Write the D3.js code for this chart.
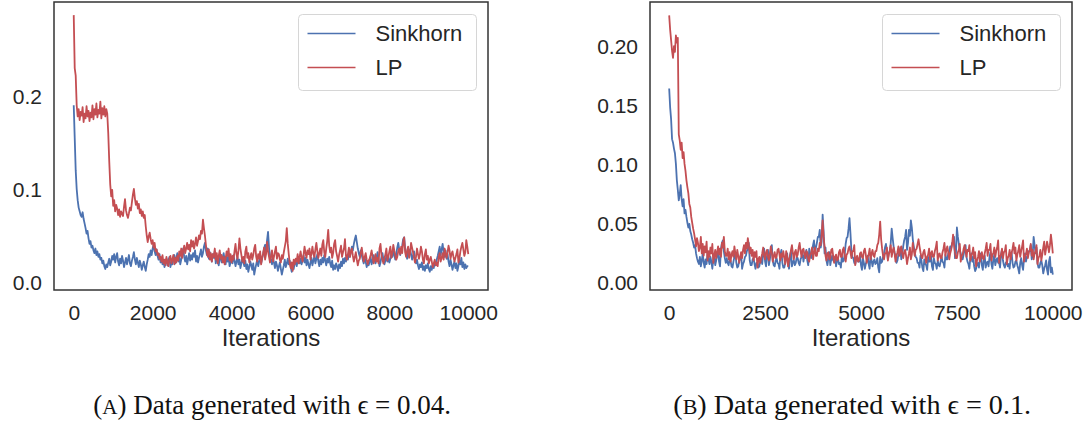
<!DOCTYPE html>
<html>
<head>
<meta charset="utf-8">
<script src="https://cdn.jsdelivr.net/npm/d3@7"></script>
<style>
  html, body { margin: 0; padding: 0; background: #fff; }
  svg { display: block; }
</style>
</head>
<body>
<svg id="chart" width="1091" height="425"></svg>
<script>
// ---------------- DATA ----------------
// sampled every 25 iterations, 0..10000 (each row = 500 iterations)
const iterations = d3.range(0, 10001, 25);

const seriesNames = ["Sinkhorn", "LP"];

// Panel A (epsilon = 0.04)
const sinkhornA = [
  .19,.155,.12,.1,.088,.08,.076,.072,.07,.075,.068,.063,.058,.052,.055,.047,.041,.044,.037,.039,
  .034,.031,.036,.029,.033,.027,.03,.024,.026,.02,.023,.017,.014,.019,.016,.021,.025,.018,.022,.028,
  .024,.03,.021,.027,.031,.022,.018,.025,.02,.028,.023,.016,.021,.026,.019,.024,.029,.02,.017,.023,
  .027,.032,.024,.019,.026,.021,.016,.023,.019,.013,.018,.022,.016,.012,.019,.024,.03,.027,.034,.029,
  .036,.04,.033,.029,.035,.028,.024,.03,.021,.026,.019,.023,.016,.021,.025,.018,.023,.027,.016,.021,
  .019,.024,.029,.02,.026,.031,.022,.027,.019,.024,.03,.036,.027,.022,.028,.019,.025,.031,.023,.029,
  .024,.031,.027,.034,.022,.028,.021,.026,.03,.035,.027,.031,.038,.042,.034,.029,.036,.025,.032,.028,
  .022,.03,.026,.033,.02,.027,.023,.018,.025,.029,.021,.026,.031,.024,.019,.027,.022,.028,.017,.021,
  .025,.02,.029,.023,.017,.022,.027,.019,.024,.015,.02,.026,.021,.017,.023,.014,.019,.011,.016,.022,
  .018,.013,.02,.008,.014,.019,.024,.017,.022,.027,.02,.025,.03,.036,.04,.033,.045,.054,.037,.028,
  .024,.019,.026,.021,.015,.022,.018,.012,.017,.021,.014,.008,.013,.018,.024,.016,.02,.025,.019,.023,
  .016,.011,.018,.014,.02,.024,.017,.022,.027,.02,.025,.019,.023,.029,.021,.026,.018,.024,.019,.015,
  .021,.026,.018,.023,.028,.02,.025,.03,.022,.017,.024,.019,.026,.021,.029,.023,.018,.025,.021,.027,
  .02,.016,.023,.013,.018,.014,.02,.017,.012,.019,.015,.022,.017,.025,.02,.026,.022,.029,.024,.031,
  .027,.033,.038,.034,.041,.046,.05,.043,.036,.031,.027,.034,.029,.024,.02,.026,.022,.016,.02,.018,
  .022,.027,.019,.023,.029,.024,.02,.026,.032,.025,.017,.021,.027,.031,.024,.019,.023,.028,.022,.026,
  .021,.025,.031,.027,.035,.029,.024,.03,.037,.042,.035,.029,.034,.039,.046,.048,.036,.03,.025,.033,
  .028,.035,.03,.024,.028,.033,.025,.02,.024,.018,.014,.019,.016,.021,.013,.017,.012,.018,.015,.02,
  .014,.011,.017,.013,.019,.015,.021,.018,.024,.028,.033,.038,.029,.035,.041,.032,.027,.034,.025,.03,
  .022,.017,.024,.019,.013,.018,.022,.015,.02,.012,.017,.023,.019,.026,.016,.021,.014,.019,.015,.017,
  .017
];
const lpA = [
  .287,.23,.222,.19,.178,.186,.174,.183,.179,.188,.172,.181,.176,.189,.178,.184,.173,.182,.177,.19,
  .175,.186,.18,.192,.177,.185,.181,.194,.176,.187,.18,.189,.178,.186,.181,.16,.13,.105,.092,.099,
  .082,.088,.076,.083,.079,.072,.078,.07,.076,.073,.071,.081,.089,.077,.072,.069,.074,.08,.077,.086,
  .094,.1,.09,.083,.087,.079,.084,.074,.078,.071,.076,.069,.072,.06,.05,.043,.049,.053,.046,.041,
  .045,.037,.042,.033,.035,.029,.031,.025,.027,.022,.029,.02,.024,.018,.027,.021,.017,.025,.028,.02,
  .024,.029,.019,.026,.021,.028,.023,.033,.028,.036,.026,.034,.039,.031,.036,.042,.035,.04,.033,.045,
  .038,.044,.036,.041,.048,.039,.044,.05,.046,.055,.052,.067,.058,.05,.04,.032,.027,.035,.024,.031,
  .022,.03,.027,.036,.024,.031,.02,.028,.034,.025,.029,.021,.027,.019,.025,.033,.028,.036,.023,.03,
  .021,.028,.024,.033,.041,.03,.025,.034,.047,.036,.029,.022,.027,.02,.033,.038,.026,.031,.021,.027,
  .031,.024,.029,.036,.04,.027,.022,.03,.025,.033,.019,.026,.031,.037,.024,.03,.043,.033,.027,.021,
  .028,.034,.022,.027,.033,.038,.025,.031,.03,.024,.021,.029,.025,.032,.038,.044,.058,.041,.03,.02,
  .015,.021,.012,.024,.019,.025,.022,.03,.02,.027,.033,.026,.022,.029,.038,.031,.026,.034,.03,.036,
  .024,.031,.038,.03,.027,.035,.042,.033,.026,.031,.036,.028,.04,.045,.032,.027,.036,.044,.056,.039,
  .032,.037,.026,.031,.041,.045,.033,.028,.022,.029,.034,.039,.027,.032,.036,.046,.028,.024,.03,.037,
  .027,.033,.036,.028,.022,.027,.032,.024,.018,.023,.025,.031,.037,.029,.022,.027,.031,.024,.019,.023,
  .025,.029,.034,.027,.02,.024,.03,.022,.026,.02,.036,.041,.029,.024,.02,.025,.03,.036,.023,.027,
  .033,.038,.026,.031,.04,.034,.029,.024,.027,.033,.036,.03,.038,.031,.043,.048,.032,.027,.034,.038,
  .026,.031,.042,.037,.032,.026,.021,.027,.036,.03,.025,.03,.038,.033,.024,.02,.03,.035,.024,.028,
  .02,.024,.027,.022,.016,.02,.024,.018,.021,.017,.027,.031,.022,.026,.031,.024,.036,.03,.026,.032,
  .039,.034,.025,.03,.033,.027,.022,.026,.03,.035,.021,.025,.033,.038,.042,.035,.028,.032,.045,.038,
  .03
];

// Panel B (epsilon = 0.1)
const sinkhornB = [
  .164,.148,.138,.121,.118,.113,.109,.1,.086,.078,.069,.074,.082,.07,.064,.07,.058,.061,.055,.05,
  .046,.049,.043,.04,.036,.033,.029,.031,.024,.02,.017,.015,.021,.013,.018,.024,.016,.012,.019,.015,
  .024,.019,.015,.021,.017,.011,.019,.023,.014,.018,.022,.027,.017,.013,.028,.033,.035,.026,.02,.016,
  .02,.016,.014,.019,.018,.013,.012,.017,.021,.025,.016,.012,.013,.018,.019,.024,.011,.015,.017,.021,
  .022,.026,.028,.033,.018,.014,.014,.019,.02,.015,.011,.016,.016,.012,.013,.018,.019,.015,.024,.028,
  .017,.013,.022,.027,.014,.019,.027,.031,.018,.014,.013,.018,.02,.016,.015,.011,.023,.027,.016,.012,
  .012,.016,.019,.024,.015,.011,.022,.026,.013,.017,.018,.014,.016,.021,.02,.016,.014,.019,.021,.025,
  .017,.022,.023,.027,.018,.014,.028,.024,.02,.025,.031,.035,.024,.029,.033,.038,.038,.044,.029,.034,
  .057,.043,.024,.029,.018,.014,.02,.025,.014,.019,.022,.018,.017,.021,.013,.018,.02,.015,.016,.012,
  .022,.017,.018,.023,.032,.037,.038,.045,.054,.041,.026,.021,.02,.016,.015,.019,.021,.017,.017,.022,
  .014,.01,.02,.016,.011,.015,.018,.022,.015,.011,.022,.018,.013,.017,.019,.015,.016,.02,.012,.008,
  .021,.016,.017,.021,.024,.029,.032,.026,.019,.024,.026,.033,.045,.037,.03,.025,.021,.016,.018,.023,
  .024,.029,.019,.023,.03,.035,.038,.044,.027,.033,.044,.039,.052,.046,.036,.03,.025,.021,.02,.016,
  .016,.012,.022,.018,.012,.009,.019,.015,.014,.01,.021,.017,.017,.022,.013,.01,.02,.016,.015,.011,
  .018,.014,.013,.017,.021,.017,.016,.012,.023,.019,.019,.024,.025,.03,.028,.033,.033,.038,.02,.024,
  .046,.038,.032,.027,.024,.02,.019,.023,.027,.031,.021,.017,.015,.011,.02,.024,.017,.021,.013,.009,
  .011,.015,.016,.012,.02,.024,.014,.01,.018,.022,.012,.016,.017,.013,.021,.025,.015,.011,.019,.023,
  .014,.018,.02,.016,.016,.012,.023,.027,.018,.014,.012,.016,.017,.013,.015,.011,.021,.025,.016,.012,
  .013,.017,.018,.014,.011,.007,.016,.02,.014,.01,.02,.024,.017,.021,.022,.026,.026,.031,.019,.023,
  .038,.031,.024,.029,.016,.012,.012,.016,.018,.014,.007,.011,.014,.018,.01,.006,.017,.021,.008,.012,
  .006
];
const lpB = [
  .226,.214,.205,.196,.19,.2,.195,.209,.203,.207,.125,.12,.112,.118,.105,.11,.1,.094,.086,.08,
  .075,.066,.063,.055,.05,.045,.041,.036,.03,.037,.033,.026,.029,.038,.024,.032,.022,.03,.025,.034,
  .018,.026,.021,.029,.024,.032,.016,.022,.027,.02,.025,.03,.023,.028,.021,.033,.029,.038,.026,.022,
  .022,.028,.019,.025,.017,.023,.026,.021,.03,.024,.019,.027,.022,.016,.021,.025,.02,.027,.031,.024,
  .033,.028,.037,.031,.024,.029,.022,.027,.018,.025,.021,.026,.012,.019,.021,.016,.02,.024,.029,.022,
  .019,.025,.027,.021,.018,.024,.03,.025,.017,.022,.025,.02,.021,.027,.028,.023,.018,.024,.021,.026,
  .02,.015,.026,.021,.013,.019,.022,.027,.031,.024,.019,.025,.027,.021,.023,.029,.033,.026,.021,.027,
  .028,.023,.02,.026,.025,.019,.017,.023,.024,.029,.019,.025,.029,.022,.022,.028,.026,.033,.031,.04,
  .052,.038,.03,.022,.018,.024,.025,.019,.02,.027,.028,.022,.016,.021,.023,.018,.019,.025,.027,.021,
  .021,.027,.029,.022,.017,.023,.024,.028,.03,.025,.02,.026,.026,.031,.014,.02,.022,.017,.018,.024,
  .025,.021,.02,.026,.028,.023,.016,.021,.023,.028,.019,.024,.027,.022,.021,.026,.026,.031,.033,.04,
  .051,.036,.028,.022,.019,.024,.024,.029,.018,.023,.026,.031,.021,.026,.029,.024,.017,.022,.025,.03,
  .022,.027,.03,.024,.02,.025,.027,.022,.015,.02,.024,.029,.019,.023,.033,.027,.022,.027,.028,.032,
  .036,.03,.025,.021,.02,.025,.027,.022,.016,.021,.023,.028,.019,.024,.026,.021,.021,.026,.029,.034,
  .018,.023,.024,.02,.02,.025,.028,.033,.022,.027,.03,.025,.019,.024,.027,.032,.04,.031,.025,.02,
  .02,.025,.027,.032,.017,.022,.023,.028,.031,.026,.021,.027,.026,.031,.018,.022,.024,.029,.02,.025,
  .013,.018,.021,.026,.017,.022,.025,.02,.019,.024,.028,.033,.022,.027,.027,.032,.018,.023,.024,.029,
  .021,.026,.029,.035,.016,.021,.023,.028,.02,.025,.026,.031,.015,.02,.022,.027,.019,.024,.028,.033,
  .024,.029,.018,.023,.026,.031,.021,.026,.03,.035,.017,.022,.023,.028,.02,.025,.027,.032,.022,.027,
  .019,.024,.026,.031,.015,.02,.022,.027,.018,.023,.029,.034,.023,.028,.034,.03,.025,.031,.04,.033,
  .024
];

const xTicksA = [0, 2000, 4000, 6000, 8000, 10000];
const yTicksA = [0, 0.1, 0.2];
const xTicksB = [0, 2500, 5000, 7500, 10000];
const yTicksB = [0, 0.05, 0.10, 0.15, 0.20];
const captionA = ["A", " Data generated with ϵ = 0.04."];
const captionB = ["B", " Data generated with ϵ = 0.1."];

// ---------------- STYLE / LAYOUT ----------------
const COLORS = { "Sinkhorn": "#4C72B0", "LP": "#C44E52" };
const TEXT = "#262626";
const SANS = "'Liberation Sans', Arial, sans-serif";
const SERIF = "'Liberation Serif', 'DejaVu Serif', serif";

const svg = d3.select("#chart");

const panels = [
  { box: {x0: 54, x1: 488, y0: 2, y1: 290}, xDom: [-500, 10500], yDom: [-0.0086, 0.3011],
    xTicks: xTicksA, yTicks: yTicksA, yFmt: d3.format(".1f"),
    series: [sinkhornA, lpA], caption: captionA, capX: 93.3, capW: 358 },
  { box: {x0: 650, x1: 1072, y0: 2, y1: 290}, xDom: [-500, 10500], yDom: [-0.00705, 0.2374],
    xTicks: xTicksB, yTicks: yTicksB, yFmt: d3.format(".2f"),
    series: [sinkhornB, lpB], caption: captionB, capX: 673.3, capW: 358 }
];

panels.forEach(p => {
  const b = p.box;
  const x = d3.scaleLinear().domain(p.xDom).range([b.x0, b.x1]);
  const y = d3.scaleLinear().domain(p.yDom).range([b.y1, b.y0]);
  const g = svg.append("g");

  const cid = "clip" + b.x0;
  svg.append("clipPath").attr("id", cid).append("rect")
    .attr("x", b.x0).attr("y", b.y0).attr("width", b.x1 - b.x0).attr("height", b.y1 - b.y0);

  // lines
  const line = d3.line()
    .defined((d, i) => i < iterations.length)
    .x((d, i) => x(iterations[i])).y(d => y(d));
  const lg = g.append("g").attr("clip-path", `url(#${cid})`);
  p.series.forEach((s, k) => {
    lg.append("path").datum(s)
      .attr("d", line)
      .attr("fill", "none")
      .attr("stroke", COLORS[seriesNames[k]])
      .attr("stroke-width", 1.8)
      .attr("stroke-linejoin", "round");
  });

  // axes (no tick marks, seaborn white style)
  const xAxis = d3.axisBottom(x).tickValues(p.xTicks).tickSize(0).tickPadding(0).tickFormat(d3.format("d"));
  const gx = g.append("g").attr("transform", `translate(0,${b.y1})`).call(xAxis);
  gx.select(".domain").remove();
  gx.selectAll("text").attr("y", 30).attr("dy", 0)
    .attr("font-family", SANS).attr("font-size", 21).attr("fill", TEXT);

  const yAxis = d3.axisLeft(y).tickValues(p.yTicks).tickSize(0).tickPadding(0).tickFormat(p.yFmt);
  const gy = g.append("g").attr("transform", `translate(${b.x0},0)`).call(yAxis);
  gy.select(".domain").remove();
  gy.selectAll("text").attr("x", -12).attr("dy", "0.36em")
    .attr("font-family", SANS).attr("font-size", 21).attr("fill", TEXT);

  // frame
  g.append("rect")
    .attr("x", b.x0).attr("y", b.y0)
    .attr("width", b.x1 - b.x0).attr("height", b.y1 - b.y0)
    .attr("fill", "none").attr("stroke", "#333").attr("stroke-width", 1.5);

  // x label
  g.append("text")
    .attr("x", (b.x0 + b.x1) / 2).attr("y", 346)
    .attr("text-anchor", "middle")
    .attr("font-family", SANS).attr("font-size", 24).attr("fill", TEXT)
    .text("Iterations");

  // legend
  const lx = Math.round(b.x1 - 12 - 178) + 0.5, ly = b.y0 + 12.5;
  const leg = g.append("g").attr("transform", `translate(${lx},${ly})`);
  leg.append("rect").attr("width", 178).attr("height", 76).attr("rx", 4)
    .attr("fill", "rgba(255,255,255,0.8)").attr("stroke", "#d6d6d6").attr("stroke-width", 1);
  seriesNames.forEach((name, k) => {
    const cy = 19 + k * 34;
    leg.append("line").attr("x1", 9).attr("x2", 57).attr("y1", cy).attr("y2", cy)
      .attr("stroke", COLORS[name]).attr("stroke-width", 1.6);
    leg.append("text").attr("x", 77).attr("y", cy).attr("dy", "0.36em")
      .attr("font-family", SANS).attr("font-size", 22).attr("fill", TEXT)
      .text(name);
  });

  // caption
  const cap = svg.append("text")
    .attr("x", p.capX).attr("y", 414)
    .attr("font-family", SERIF).attr("font-size", 20).attr("fill", "#111");
  cap.append("tspan").text("(");
  cap.append("tspan").attr("font-size", "0.78em").text(p.caption[0]);
  cap.append("tspan").text(")" + p.caption[1]);
  const w = cap.node().getComputedTextLength();
  cap.attr("font-size", 20 * p.capW / w);
});
</script>
</body>
</html>
